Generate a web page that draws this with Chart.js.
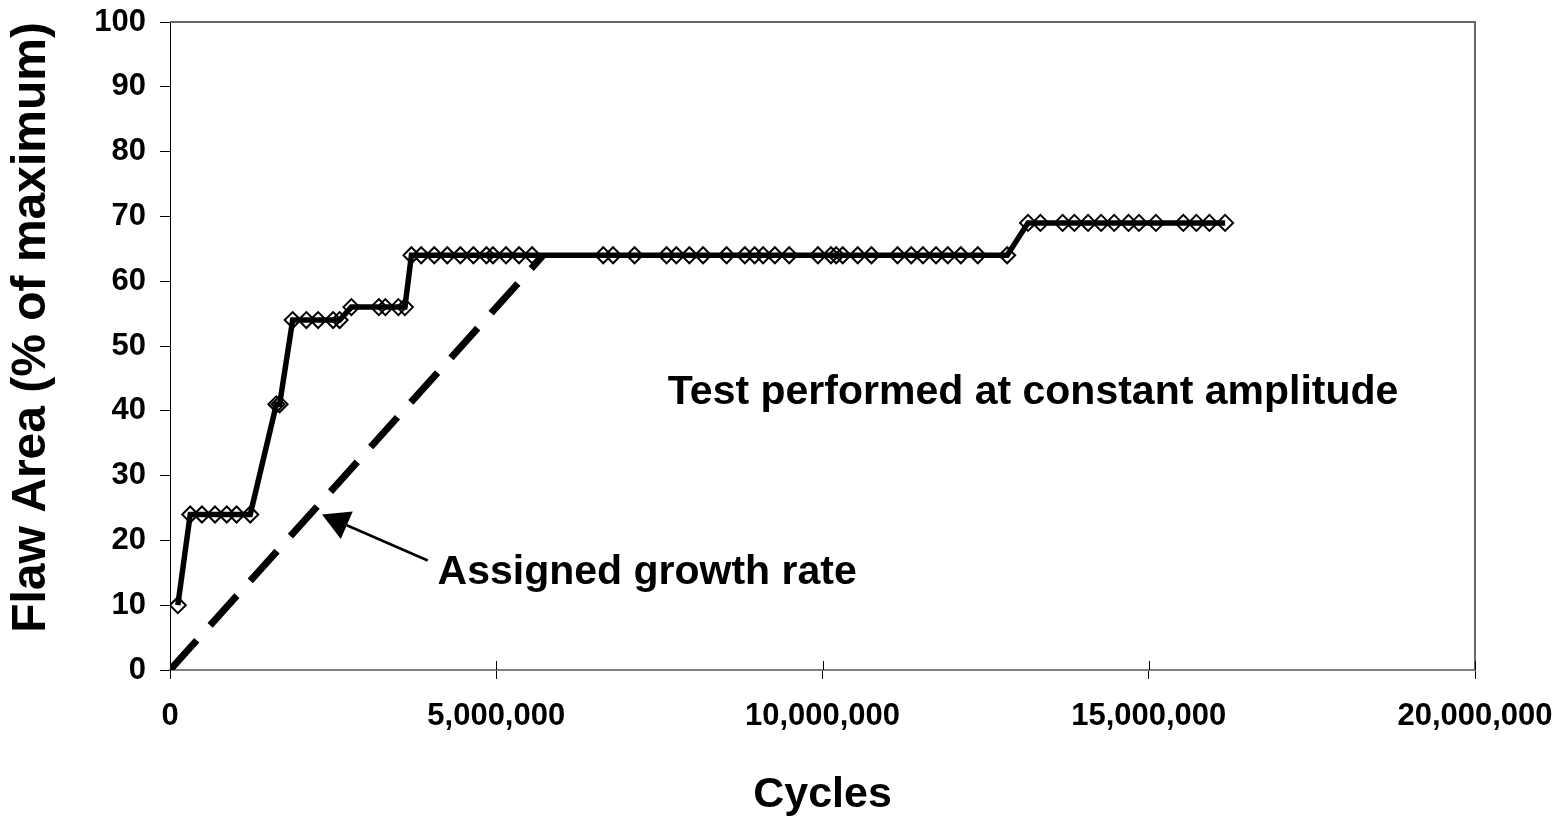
<!DOCTYPE html>
<html>
<head>
<meta charset="utf-8">
<title>Flaw area vs cycles</title>
<script src="https://cdn.jsdelivr.net/npm/chart.js@4.4.1/dist/chart.umd.min.js"></script>
<style>
  html, body { margin: 0; padding: 0; background: #fff; }
  #wrap { position: relative; width: 1559px; height: 817px; }
</style>
</head>
<body>
<div id="wrap"><canvas id="c"></canvas></div>
<script>
/* Measured flaw area (% of max) against cycles */
const cycles = [
  120000,
  310000, 490000, 690000, 870000, 1020000, 1230000,
  1630000, 1680000,
  1880000, 2090000, 2270000, 2500000, 2600000,
  2780000, 3200000, 3300000, 3500000, 3600000,
  3700000, 3850000, 4050000, 4250000, 4450000, 4650000, 4850000, 4950000, 5150000, 5350000, 5550000,
  6640000, 6790000, 7120000, 7610000, 7760000, 7960000, 8170000, 8530000,
  8810000, 8960000, 9090000, 9270000, 9490000,
  9930000, 10130000, 10210000, 10310000, 10540000, 10750000,
  11150000, 11360000, 11540000, 11740000, 11920000, 12120000, 12380000, 12830000,
  13150000, 13340000, 13680000, 13860000, 14070000, 14270000, 14470000, 14690000, 14850000, 15110000,
  15530000, 15730000, 15930000, 16170000
];
const flawArea = [
  10,
  24, 24, 24, 24, 24, 24,
  41, 41,
  54, 54, 54, 54, 54,
  56, 56, 56, 56, 56,
  64, 64, 64, 64, 64, 64, 64, 64, 64, 64, 64,
  64, 64, 64, 64, 64, 64, 64, 64,
  64, 64, 64, 64, 64,
  64, 64, 64, 64, 64, 64,
  64, 64, 64, 64, 64, 64, 64, 64,
  69, 69, 69, 69, 69, 69, 69, 69, 69, 69,
  69, 69, 69, 69
];

/* Assigned growth rate (dashed straight line) */
const rateCycles = [0, 5720000];
const rateArea = [0, 64];

/* Axis ticks */
const xTicks = [0, 5000000, 10000000, 15000000, 20000000];
const yTicks = [0, 10, 20, 30, 40, 50, 60, 70, 80, 90, 100];

/* Annotations, in data units */
const notes = [
  { text: 'Test performed at constant amplitude', x: 7630000, y: 41.1 },
  { text: 'Assigned growth rate', x: 4100000, y: 13.2 }
];
const arrowFrom = { x: 3950000, y: 16.9 };
const arrowTo = { x: 2330000, y: 24.0 };

const FONT = '"Liberation Sans", Arial, Helvetica, sans-serif';
const fmt = (v) => v.toLocaleString('en-US');

// frame, inner x tick marks, text notes and the arrow
const extras = {
  id: 'extras',
  beforeDatasetsDraw(chart) {
    const { ctx, chartArea: a, scales: { x } } = chart;
    ctx.save();
    ctx.strokeStyle = '#666';
    ctx.lineWidth = 2;
    ctx.beginPath();
    ctx.moveTo(a.left, a.top);
    ctx.lineTo(a.right, a.top);
    ctx.lineTo(a.right, a.bottom);
    ctx.stroke();
    ctx.strokeStyle = '#000';
    ctx.lineWidth = 1;
    xTicks.forEach((t) => {
      const px = Math.round(x.getPixelForValue(t)) + 0.5;
      ctx.beginPath();
      ctx.moveTo(px, a.bottom);
      ctx.lineTo(px, a.bottom - 9);
      ctx.stroke();
    });
    ctx.restore();
  },
  afterDatasetsDraw(chart) {
    const { ctx, scales: { x, y } } = chart;
    ctx.save();
    ctx.fillStyle = '#000';
    ctx.font = 'bold 41px ' + FONT;
    ctx.textBaseline = 'alphabetic';
    ctx.textAlign = 'left';
    notes.forEach((n) => ctx.fillText(n.text, x.getPixelForValue(n.x), y.getPixelForValue(n.y)));

    const x0 = x.getPixelForValue(arrowFrom.x), y0 = y.getPixelForValue(arrowFrom.y);
    const x1 = x.getPixelForValue(arrowTo.x), y1 = y.getPixelForValue(arrowTo.y);
    const ang = Math.atan2(y1 - y0, x1 - x0);
    const headLen = 27, headHalf = 15;
    const bx = x1 - headLen * Math.cos(ang), by = y1 - headLen * Math.sin(ang);
    ctx.strokeStyle = '#000';
    ctx.lineWidth = 2.5;
    ctx.beginPath();
    ctx.moveTo(x0, y0);
    ctx.lineTo(bx, by);
    ctx.stroke();
    ctx.beginPath();
    ctx.moveTo(x1, y1);
    ctx.lineTo(bx + headHalf * Math.sin(ang), by - headHalf * Math.cos(ang));
    ctx.lineTo(bx - headHalf * Math.sin(ang), by + headHalf * Math.cos(ang));
    ctx.closePath();
    ctx.fill();
    ctx.restore();
  }
};

new Chart(document.getElementById('c'), {
  type: 'line',
  data: {
    datasets: [
      {
        label: 'Assigned growth rate',
        data: rateCycles.map((c, i) => ({ x: c, y: rateArea[i] })),
        borderColor: '#000',
        borderWidth: 7,
        borderDash: [40, 20],
        pointRadius: 0,
        tension: 0
      },
      {
        label: 'Flaw area',
        data: cycles.map((c, i) => ({ x: c, y: flawArea[i] })),
        borderColor: '#000',
        borderWidth: 5.5,
        tension: 0,
        pointStyle: 'rectRot',
        pointRadius: 8,
        pointBorderWidth: 2,
        pointBorderColor: '#000',
        pointBackgroundColor: 'rgba(255,255,255,0)'
      }
    ]
  },
  options: {
    responsive: true,
    maintainAspectRatio: false,
    animation: false,
    layout: { padding: { top: 22, right: 84, bottom: 0, left: 0 } },
    plugins: { legend: { display: false }, tooltip: { enabled: false } },
    scales: {
      x: {
        type: 'linear',
        min: 0,
        max: 20000000,
        afterBuildTicks: (s) => { s.ticks = xTicks.map((v) => ({ value: v })); },
        afterFit: (s) => { s.height = 147; },
        grid: { drawOnChartArea: false, drawTicks: true, tickLength: 9, color: '#000' },
        border: { display: true, color: '#808080', width: 2 },
        ticks: {
          color: '#000',
          padding: 5,
          maxRotation: 0,
          font: { family: FONT, size: 31, weight: 'bold', lineHeight: 2.1 },
          callback: (v) => fmt(v)
        },
        title: {
          display: true,
          text: 'Cycles',
          color: '#000',
          padding: 0,
          font: { family: FONT, size: 43, weight: 'bold', lineHeight: 1 }
        }
      },
      y: {
        min: 0,
        max: 100,
        afterBuildTicks: (s) => { s.ticks = yTicks.map((v) => ({ value: v })); },
        afterFit: (s) => { s.width = 170; },
        grid: { drawOnChartArea: false, drawTicks: true, tickLength: 10, color: '#000' },
        border: { display: true, color: '#000', width: 1 },
        ticks: {
          color: '#000',
          padding: 14,
          font: { family: FONT, size: 31, weight: 'bold', lineHeight: 0.4 }
        },
        title: {
          display: true,
          text: 'Flaw Area (% of maximum)',
          color: '#000',
          align: 'end',
          padding: { top: 8, bottom: 0 },
          font: { family: FONT, size: 48, weight: 'bold', lineHeight: 1 }
        }
      }
    }
  },
  plugins: [extras]
});
</script>
</body>
</html>
